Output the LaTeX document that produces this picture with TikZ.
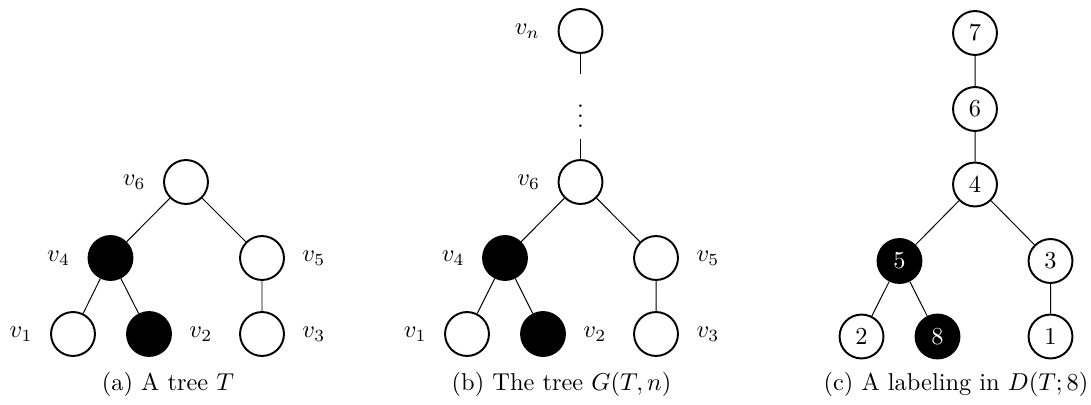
\documentclass[tikz,border=0pt]{standalone}
\begin{document}
\begin{tikzpicture}[x=0.41pt,y=-0.41pt,
  vtx/.style={circle,draw,thick,minimum size=18pt,inner sep=0pt},
  blk/.style={vtx,fill=black,text=white},
  lab/.style={inner sep=0pt},
  ll/.style={label={[lab,label distance=7pt]left:#1}},
  lr/.style={label={[lab,label distance=7pt]right:#1}},
  edge/.style={line width=0.4pt}]
\useasboundingbox (0,0) rectangle (1091,405);
% (a)
\node[vtx,ll={$v_6$}] (a6) at (186,182) {};
\node[blk,ll={$v_4$}] (a4) at (110.5,258) {};
\node[vtx,lr={$v_5$}] (a5) at (262,258) {};
\node[vtx,ll={$v_1$}] (a1) at (73,334) {};
\node[blk,lr={$v_2$}] (a2) at (149,334) {};
\node[vtx,lr={$v_3$}] (a3) at (262,334) {};
\draw[edge] (a6) -- (a4) (a6) -- (a5) (a4) -- (a1) (a4) -- (a2) (a5) -- (a3);
\node (capa) at (168,384) {(a) A tree $T$};
% (b)
\node[vtx,ll={$v_n$}] (bn) at (580.5,31) {};
\coordinate (bt) at (580.5,74);
\node[anchor=base,inner sep=0pt] (bd) at (580.5,127.5) {$\vdots$};
\coordinate (bb) at (580.5,139);
\node[vtx,ll={$v_6$}] (b6) at (580.5,182) {};
\node[blk,ll={$v_4$}] (b4) at (505,258) {};
\node[vtx,lr={$v_5$}] (b5) at (656,258) {};
\node[vtx,ll={$v_1$}] (b1) at (467,334) {};
\node[blk,lr={$v_2$}] (b2) at (543,334) {};
\node[vtx,lr={$v_3$}] (b3) at (656,334) {};
\draw[edge] (bn) -- (bt) (bb) -- (b6);
\draw[edge] (b6) -- (b4) (b6) -- (b5) (b4) -- (b1) (b4) -- (b2) (b5) -- (b3);
\node (capb) at (561.5,384) {(b) The tree $G(T,n)$};
% (c)
\node[vtx] (c7) at (975,33) {7};
\node[vtx] (c6) at (975,109) {6};
\node[vtx] (c4) at (975,184.5) {4};
\node[blk] (c5) at (899.5,261) {5};
\node[vtx] (c3) at (1050.5,261) {3};
\node[vtx] (c2) at (861.5,336.5) {2};
\node[blk] (c8) at (937.5,336.5) {8};
\node[vtx] (c1) at (1050.5,336.5) {1};
\draw[edge] (c7) -- (c6) (c6) -- (c4) (c4) -- (c5) (c4) -- (c3) (c5) -- (c2) (c5) -- (c8) (c3) -- (c1);
\node (capc) at (956,384) {(c) A labeling in $D(T;8)$};
\end{tikzpicture}
\end{document}
